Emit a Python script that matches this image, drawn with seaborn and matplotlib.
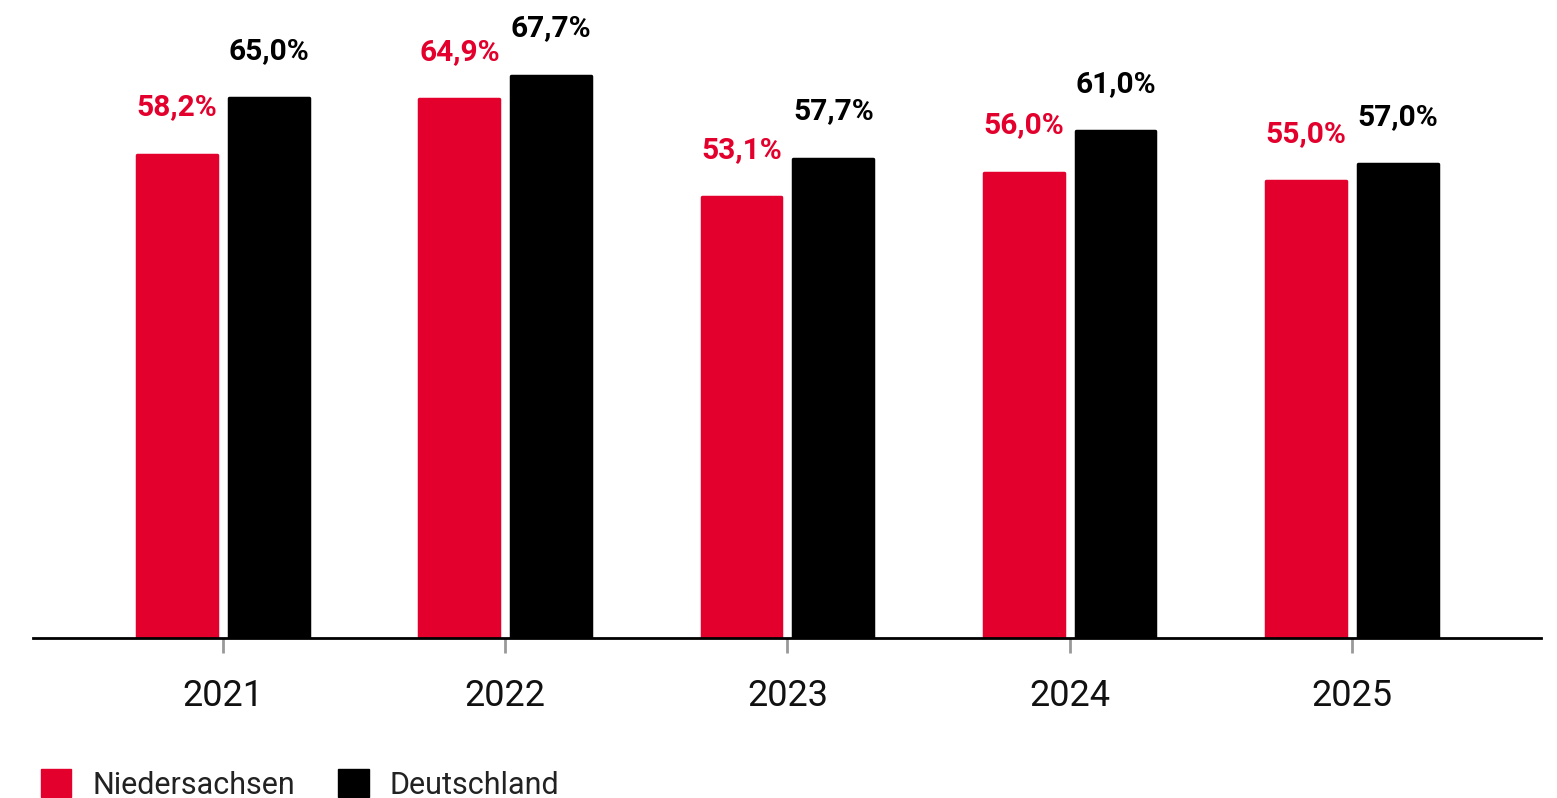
import pandas as pd
import matplotlib.pyplot as plt
import seaborn as sns
from matplotlib.patches import Patch

sns.set_theme(style="white")
plt.rcParams['font.family'] = ['Roboto', 'DejaVu Sans']

years = ['2021', '2022', '2023', '2024', '2025']
niedersachsen = [58.2, 64.9, 53.1, 56.0, 55.0]
deutschland = [65.0, 67.7, 57.7, 61.0, 57.0]
series = ['Niedersachsen', 'Deutschland']
colors = {'Niedersachsen': '#E3002C', 'Deutschland': '#000000'}

df = pd.DataFrame({
    'Jahr': years * 2,
    'Wert': niedersachsen + deutschland,
    'Region': ['Niedersachsen'] * len(years) + ['Deutschland'] * len(years),
})


def fmt(v):
    return f"{v:.1f}".replace('.', ',') + '%'


fig = plt.figure(figsize=(15.57, 7.98), dpi=100)
ax = fig.add_axes([33 / 1557, 160 / 798, (1541 - 33) / 1557, 638 / 798])

sns.barplot(data=df, x='Jahr', y='Wert', hue='Region', hue_order=series,
            palette=colors, width=0.65, gap=0.13, ax=ax, legend=False,
            saturation=1)

# leicht abgerundete Ecken
for cont, name in zip(ax.containers, series):
    for bar in cont:
        bar.set_edgecolor(colors[name])
        bar.set_linewidth(2.5)
        bar.set_joinstyle('round')

for cont, name, vals in zip(ax.containers, series, [niedersachsen, deutschland]):
    for bar, v in zip(cont, vals):
        ax.annotate(fmt(v), (bar.get_x() + bar.get_width() / 2, bar.get_height()),
                    xytext=(0, 34), textcoords='offset points',
                    ha='center', va='center', fontsize=21.5, fontweight='bold',
                    color=colors[name])

ax.set_xlim(-0.673, 4.67)
ax.set_ylim(0, 76.8)
ax.set_xlabel('')
ax.set_ylabel('')
ax.set_yticks([])
for s in ['top', 'right', 'left']:
    ax.spines[s].set_visible(False)
ax.spines['bottom'].set_linewidth(2)
ax.spines['bottom'].set_color('black')
ax.tick_params(axis='x', length=11, width=2, color='#999999', pad=18,
               labelsize=26, labelcolor='#111111', bottom=True)

handles = [Patch(facecolor=colors[n], edgecolor=colors[n], label=n) for n in series]
fig.legend(handles=handles, loc='lower left', bbox_to_anchor=(13 / 1557, -29 / 798),
           ncol=2, frameon=False, fontsize=22, handlelength=1.0, handleheight=1.0,
           handletextpad=0.7, columnspacing=1.4, labelcolor='#222222')

fig.savefig('out.png', dpi=100)
